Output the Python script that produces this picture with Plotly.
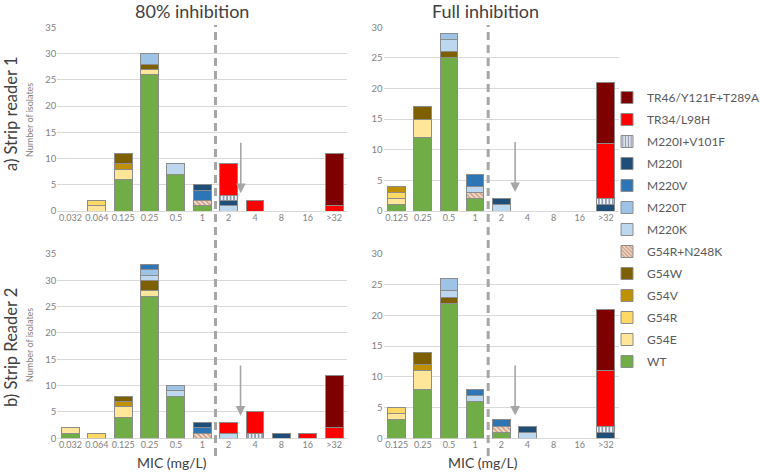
import plotly.graph_objects as go

# ---------------- data ----------------
cats_80 = ["0.032", "0.064", "0.125", "0.25", "0.5", "1", "2", "4", "8", "16", ">32"]
cats_full = ["0.125", "0.25", "0.5", "1", "2", "4", "8", "16", ">32"]

series = ["WT", "G54E", "G54R", "G54V", "G54W", "G54R+N248K", "M220K", "M220T",
          "M220V", "M220I", "M220I+V101F", "TR34/L98H", "TR46/Y121F+T289A"]

# a) Strip reader 1, 80% inhibition
r1_80 = {
    "WT":               [0, 0, 6, 26, 7, 1, 0, 0, 0, 0, 0],
    "G54E":             [0, 1, 2, 1, 0, 0, 0, 0, 0, 0, 0],
    "G54R":             [0, 1, 0, 0, 0, 0, 0, 0, 0, 0, 0],
    "G54V":             [0, 0, 1, 0, 0, 0, 0, 0, 0, 0, 0],
    "G54W":             [0, 0, 2, 1, 0, 0, 0, 0, 0, 0, 0],
    "G54R+N248K":       [0, 0, 0, 0, 0, 1, 0, 0, 0, 0, 0],
    "M220K":            [0, 0, 0, 0, 2, 0, 1, 0, 0, 0, 0],
    "M220T":            [0, 0, 0, 2, 0, 0, 0, 0, 0, 0, 0],
    "M220V":            [0, 0, 0, 0, 0, 2, 0, 0, 0, 0, 0],
    "M220I":            [0, 0, 0, 0, 0, 1, 1, 0, 0, 0, 0],
    "M220I+V101F":      [0, 0, 0, 0, 0, 0, 1, 0, 0, 0, 0],
    "TR34/L98H":        [0, 0, 0, 0, 0, 0, 6, 2, 0, 0, 1],
    "TR46/Y121F+T289A": [0, 0, 0, 0, 0, 0, 0, 0, 0, 0, 10],
}
# a) Strip reader 1, full inhibition
r1_full = {
    "WT":               [1, 12, 25, 2, 0, 0, 0, 0, 0],
    "G54E":             [1, 3, 0, 0, 0, 0, 0, 0, 0],
    "G54R":             [1, 0, 0, 0, 0, 0, 0, 0, 0],
    "G54V":             [1, 0, 0, 0, 0, 0, 0, 0, 0],
    "G54W":             [0, 2, 1, 0, 0, 0, 0, 0, 0],
    "G54R+N248K":       [0, 0, 0, 1, 0, 0, 0, 0, 0],
    "M220K":            [0, 0, 2, 1, 1, 0, 0, 0, 0],
    "M220T":            [0, 0, 1, 0, 0, 0, 0, 0, 0],
    "M220V":            [0, 0, 0, 2, 0, 0, 0, 0, 0],
    "M220I":            [0, 0, 0, 0, 1, 0, 0, 0, 1],
    "M220I+V101F":      [0, 0, 0, 0, 0, 0, 0, 0, 1],
    "TR34/L98H":        [0, 0, 0, 0, 0, 0, 0, 0, 9],
    "TR46/Y121F+T289A": [0, 0, 0, 0, 0, 0, 0, 0, 10],
}
# b) Strip reader 2, 80% inhibition
r2_80 = {
    "WT":               [1, 0, 4, 27, 8, 0, 0, 0, 0, 0, 0],
    "G54E":             [1, 0, 2, 1, 0, 0, 0, 0, 0, 0, 0],
    "G54R":             [0, 1, 0, 0, 0, 0, 0, 0, 0, 0, 0],
    "G54V":             [0, 0, 1, 0, 0, 0, 0, 0, 0, 0, 0],
    "G54W":             [0, 0, 1, 2, 0, 0, 0, 0, 0, 0, 0],
    "G54R+N248K":       [0, 0, 0, 0, 0, 1, 0, 0, 0, 0, 0],
    "M220K":            [0, 0, 0, 1, 1, 0, 1, 0, 0, 0, 0],
    "M220T":            [0, 0, 0, 1, 1, 0, 0, 0, 0, 0, 0],
    "M220V":            [0, 0, 0, 1, 0, 1, 0, 0, 0, 0, 0],
    "M220I":            [0, 0, 0, 0, 0, 1, 0, 0, 1, 0, 0],
    "M220I+V101F":      [0, 0, 0, 0, 0, 0, 0, 1, 0, 0, 0],
    "TR34/L98H":        [0, 0, 0, 0, 0, 0, 2, 4, 0, 1, 2],
    "TR46/Y121F+T289A": [0, 0, 0, 0, 0, 0, 0, 0, 0, 0, 10],
}
# b) Strip reader 2, full inhibition
r2_full = {
    "WT":               [3, 8, 22, 6, 1, 0, 0, 0, 0],
    "G54E":             [1, 3, 0, 0, 0, 0, 0, 0, 0],
    "G54R":             [1, 0, 0, 0, 0, 0, 0, 0, 0],
    "G54V":             [0, 1, 0, 0, 0, 0, 0, 0, 0],
    "G54W":             [0, 2, 1, 0, 0, 0, 0, 0, 0],
    "G54R+N248K":       [0, 0, 0, 0, 1, 0, 0, 0, 0],
    "M220K":            [0, 0, 1, 1, 0, 1, 0, 0, 0],
    "M220T":            [0, 0, 2, 0, 0, 0, 0, 0, 0],
    "M220V":            [0, 0, 0, 1, 1, 0, 0, 0, 0],
    "M220I":            [0, 0, 0, 0, 0, 1, 0, 0, 1],
    "M220I+V101F":      [0, 0, 0, 0, 0, 0, 0, 0, 1],
    "TR34/L98H":        [0, 0, 0, 0, 0, 0, 0, 0, 9],
    "TR46/Y121F+T289A": [0, 0, 0, 0, 0, 0, 0, 0, 10],
}

# ---------------- styles ----------------
colors = {
    "WT": "#70AD47", "G54E": "#FFE699", "G54R": "#FFD966", "G54V": "#BF9000",
    "G54W": "#7F6000", "G54R+N248K": "#FFFFFF", "M220K": "#BDD7EE", "M220T": "#9DC3E6",
    "M220V": "#2E75B6", "M220I": "#1F4E79", "M220I+V101F": "#FFFFFF",
    "TR34/L98H": "#FF0000", "TR46/Y121F+T289A": "#7F0000",
}
patterns = {
    "G54R+N248K": dict(shape="\\", fgcolor="#A84A14", bgcolor="#FFFFFF", size=3.5, solidity=0.7),
    "M220I+V101F": dict(shape="|", fgcolor="#203864", bgcolor="#FFFFFF", size=3.5, solidity=0.55),
}

FONT = "Lato"
GRAY = "#7F7F7F"

fig = go.Figure()

panels = [
    (r1_80, cats_80, "x", "y", True),
    (r1_full, cats_full, "x2", "y2", False),
    (r2_80, cats_80, "x3", "y3", False),
    (r2_full, cats_full, "x4", "y4", False),
]

for data, cats, xa, ya, show in panels:
    for i, s in enumerate(series):
        vals = [v if v != 0 else None for v in data[s]]
        marker = dict(color=colors[s], line=dict(color="#8C8C8C", width=1))
        if s in patterns:
            marker["pattern"] = patterns[s]
        fig.add_trace(go.Bar(
            x=cats, y=vals, name=s, xaxis=xa, yaxis=ya,
            marker=marker, showlegend=show, legendgroup=s,
            legendrank=100 - i,
        ))

W, H = 760, 473
xd_left = [57.3 / W, 347.3 / W]
xd_right = [383.6 / W, 618.9 / W]
yd_top = [1 - 211 / H, 1 - 27.3 / H]
yd_bot = [1 - 438.3 / H, 1 - 254 / H]

xcommon = dict(type="category", showgrid=False, zeroline=False, showline=False,
               ticks="", tickangle=0, tickfont=dict(family=FONT, size=9, color=GRAY),
               fixedrange=True)
ycommon = dict(showgrid=True, gridcolor="#D9D9D9", gridwidth=1, zeroline=True,
               zerolinecolor="#D9D9D9", zerolinewidth=1, showline=False, ticks="",
               dtick=5, tickfont=dict(family=FONT, size=9.5, color=GRAY), fixedrange=True)

fig.update_layout(
    width=W, height=H, autosize=False,
    margin=dict(l=0, r=0, t=0, b=0, autoexpand=False),
    paper_bgcolor="white", plot_bgcolor="white",
    barmode="stack", bargap=0.32,
    font=dict(family=FONT, color="#595959"),
    xaxis=dict(domain=xd_left, anchor="y", **xcommon),
    yaxis=dict(domain=yd_top, anchor="x", range=[0, 35], **ycommon),
    xaxis2=dict(domain=xd_right, anchor="y2", **xcommon),
    yaxis2=dict(domain=yd_top, anchor="x2", range=[0, 30], **ycommon),
    xaxis3=dict(domain=xd_left, anchor="y3", **xcommon),
    yaxis3=dict(domain=yd_bot, anchor="x3", range=[0, 35], **ycommon),
    xaxis4=dict(domain=xd_right, anchor="y4", **xcommon),
    yaxis4=dict(domain=yd_bot, anchor="x4", range=[0, 30], **ycommon),
    legend=dict(x=607 / W, y=1 - 83 / H, xanchor="left", yanchor="top",
                traceorder="grouped", font=dict(family=FONT, size=12, color="#595959"),
                tracegroupgap=3, itemwidth=30, bgcolor="rgba(0,0,0,0)"),
)

# dashed breakpoint lines (between MIC 1 and 2)
for xr in ["x", "x2"]:
    fig.add_shape(type="line", xref=xr, yref="paper", x0=5.5 if xr == "x" else 3.5,
                  x1=5.5 if xr == "x" else 3.5, y0=1 - 456 / H, y1=1 - 25 / H,
                  line=dict(color="#A6A6A6", width=3, dash="8px,5px"))

# gray arrows
arrows = [("x", "y", 6.46, 3.4, 13.3), ("x2", "y2", 4.53, 3.1, 11.5),
          ("x3", "y3", 6.45, 4.3, 14.1), ("x4", "y4", 4.53, 3.7, 12.1)]
for xr, yr, ax_, tip, start in arrows:
    fig.add_annotation(x=ax_, y=tip, xref=xr, yref=yr, ax=ax_, ay=start, axref=xr, ayref=yr,
                       showarrow=True, arrowhead=2, arrowsize=1.2, arrowwidth=1.6,
                       arrowcolor="#A6A6A6", text="")

def paper_text(text, x, y, size, color="#404040", angle=0):
    fig.add_annotation(text=text, x=x / W, y=1 - y / H, xref="paper", yref="paper",
                       showarrow=False, textangle=angle, xanchor="center", yanchor="middle",
                       font=dict(family=FONT, size=size, color=color))

paper_text("80% inhibition", 192, 11, 18)
paper_text("Full inhibition", 485, 11, 18)
paper_text("a) Strip reader 1", 11, 114, 16.5, angle=-90)
paper_text("b) Strip Reader 2", 11, 348, 16.5, angle=-90)
paper_text("Number of isolates", 29, 120, 9, color=GRAY, angle=-90)
paper_text("Number of isolates", 29, 345, 9, color=GRAY, angle=-90)
paper_text("MIC (mg/L)", 172, 462, 14)
paper_text("MIC (mg/L)", 483, 462, 14)

fig.write_html("out.html", config={"displayModeBar": False, "staticPlot": True},
               post_script="document.body.style.margin='0';document.body.style.overflow='hidden';")
